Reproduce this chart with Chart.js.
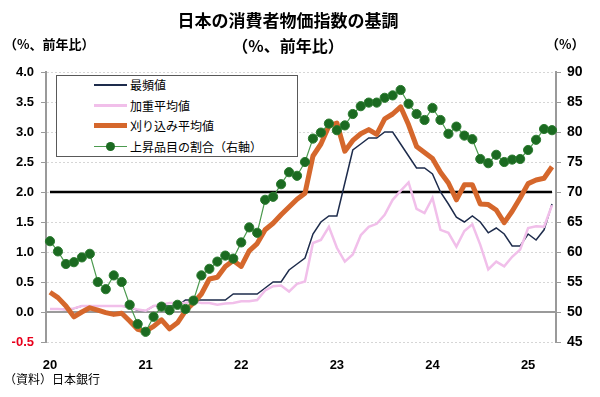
<!DOCTYPE html>
<html>
<head>
<meta charset="utf-8">
<script src="https://cdn.jsdelivr.net/npm/chart.js@4/dist/chart.umd.min.js"></script>
<style>
html,body{margin:0;padding:0;background:#fff;}
#wrap{position:relative;width:600px;height:397px;overflow:hidden;font-family:"Noto Sans CJK JP",sans-serif;color:#000;}
canvas{position:absolute;left:0;top:0;}
.t{position:absolute;white-space:nowrap;line-height:1;}
#legend{position:absolute;left:56px;top:75px;width:240px;height:80px;border:1px solid #595959;background:#fff;}
.row{position:absolute;left:0;height:16px;width:240px;}
.row .lbl{position:absolute;left:73px;top:0;font-size:12px;line-height:16px;}
.sw{position:absolute;left:37px;width:33px;}
</style>
</head>
<body>
<div id="wrap">
<canvas id="c" width="600" height="397"></canvas>
<div class="t" style="left:0;width:576px;text-align:center;top:11px;font-size:17px;font-weight:bold;">日本の消費者物価指数の基調</div>
<div class="t" style="left:0;width:576px;text-align:center;top:37px;font-size:16px;font-weight:bold;">（%、前年比）</div>
<div class="t" style="left:4px;top:37px;font-size:13px;font-weight:bold;">（%、前年比）</div>
<div class="t" style="left:546px;top:37px;font-size:13px;font-weight:bold;">（%）</div>
<div class="t" style="left:4px;top:373px;font-size:12px;">（資料）日本銀行</div>
<div id="legend"></div>
</div>
<script>
// ---- data ----
const categories = [
 '20/01','20/02','20/03','20/04','20/05','20/06','20/07','20/08','20/09','20/10','20/11','20/12',
 '21/01','21/02','21/03','21/04','21/05','21/06','21/07','21/08','21/09','21/10','21/11','21/12',
 '22/01','22/02','22/03','22/04','22/05','22/06','22/07','22/08','22/09','22/10','22/11','22/12',
 '23/01','23/02','23/03','23/04','23/05','23/06','23/07','23/08','23/09','23/10','23/11','23/12',
 '24/01','24/02','24/03','24/04','24/05','24/06','24/07','24/08','24/09','24/10','24/11','24/12',
 '25/01','25/02','25/03','25/04'];
const yearTickLabels = {'20/01':'20','21/01':'21','22/01':'22','23/01':'23','24/01':'24','25/01':'25'};

const modeValue = [ // 最頻値
 0.05,0.05,0.04,0.06,0.1,0.1,0.1,0.1,0.1,0.1,0.08,0.03,
 0.02,0.1,0.1,0.1,0.1,0.2,0.2,0.2,0.2,0.2,0.2,0.3,
 0.3,0.3,0.3,0.4,0.5,0.5,0.7,0.8,0.9,1.3,1.5,1.6,
 1.6,2.15,2.7,2.8,2.9,2.9,3.0,3.0,2.8,2.6,2.4,2.4,
 2.3,2.0,1.8,1.58,1.5,1.6,1.5,1.32,1.4,1.3,1.1,1.1,
 1.3,1.2,1.37,1.8];
const weightedMedian = [ // 加重平均値
 0.05,0.05,0.04,0.06,0.1,0.1,0.1,0.1,0.1,0.1,0.08,0.04,
 0.02,0.1,0.12,0.15,0.15,0.15,0.18,0.15,0.15,0.12,0.14,0.15,
 0.18,0.18,0.2,0.36,0.43,0.44,0.34,0.47,0.51,1.15,1.2,1.42,
 1.07,0.84,0.96,1.28,1.42,1.47,1.62,1.87,2.02,2.16,1.72,1.65,
 1.9,1.37,1.32,1.09,1.35,1.46,1.12,0.71,0.84,0.76,0.92,1.04,
 1.4,1.43,1.42,1.78];
const trimmedMean = [ // 刈り込み平均値
 0.33,0.24,0.1,-0.08,0.0,0.07,0.03,-0.01,-0.04,-0.02,-0.15,-0.29,
 -0.32,-0.24,-0.13,-0.28,-0.18,0.02,0.15,0.3,0.55,0.58,0.76,0.86,
 0.76,1.02,1.14,1.37,1.48,1.62,1.75,1.88,1.98,2.6,2.8,3.1,
 3.15,2.68,2.86,2.97,3.04,2.96,3.22,3.3,3.42,3.12,2.76,2.66,
 2.56,2.33,2.15,1.87,2.12,2.12,1.8,1.79,1.7,1.49,1.68,1.9,
 2.14,2.2,2.23,2.42];
const risingShare = [ // 上昇品目の割合（右軸）
 61.8,60.1,58.0,58.3,59.1,59.7,55.0,53.8,56.1,55.0,51.2,48.0,
 46.7,49.2,50.9,50.3,51.2,50.5,51.9,56.1,57.2,58.4,59.4,58.9,
 61.6,64.1,63.2,68.7,69.2,71.3,73.3,72.7,75.0,78.9,79.9,81.4,
 80.3,81.1,83.0,84.3,84.9,84.9,85.7,86.1,87.0,84.7,83.0,82.0,
 84.0,82.0,79.7,80.9,79.4,78.8,75.5,74.8,76.2,75.0,75.4,75.5,
 77.0,78.7,80.5,80.3];
const targetLine = categories.map(() => 2.0);

const leftTicks = {min:-0.5, max:4.0, step:0.5};
const rightTicks = {min:45, max:90, step:5};

const seriesNames = ['最頻値','加重平均値','刈り込み平均値','上昇品目の割合（右軸）'];
const colors = {mode:'#1e2c4c', wm:'#f1bfea', trim:'#d5672c', share:'#4c9a4f', dot:'#1b6a21', target:'#000000'};

// ---- legend (HTML) ----
const lg = document.getElementById('legend');
const rowTops = [1, 22, 42, 63];
const swatch = [
  `<div class="sw" style="top:7px;height:2px;background:${colors.mode}"></div>`,
  `<div class="sw" style="top:6px;height:3px;background:${colors.wm}"></div>`,
  `<div class="sw" style="top:5px;height:5px;background:${colors.trim}"></div>`,
  `<div class="sw" style="top:7px;height:1px;background:${colors.share}"></div><div style="position:absolute;left:49px;top:3px;width:9px;height:9px;border-radius:50%;background:${colors.dot}"></div>`
];
seriesNames.forEach((n,i)=>{
  const r=document.createElement('div'); r.className='row'; r.style.top=rowTops[i]+'px';
  r.innerHTML = swatch[i] + `<div class="lbl">${n}</div>`;
  lg.appendChild(r);
});

// ---- chart ----
const numFont = {family:"'Liberation Sans Narrow','Liberation Sans',Arial,sans-serif", size:13, weight:'bold'};
const zeroLine = {
  id:'zeroLine',
  beforeDatasetsDraw(chart){
    const {ctx, chartArea:a, scales:{y}} = chart;
    const py = y.getPixelForValue(0);
    ctx.save(); ctx.strokeStyle='#9a9a9a'; ctx.lineWidth=2;
    ctx.beginPath(); ctx.moveTo(a.left,py); ctx.lineTo(a.right,py); ctx.stroke(); ctx.restore();
  }
};
new Chart(document.getElementById('c'), {
  type:'line',
  data:{
    labels:categories,
    datasets:[
      {label:seriesNames[3], data:risingShare, yAxisID:'y1', borderColor:colors.share, borderWidth:1.2,
       pointRadius:4.6, pointBackgroundColor:colors.dot, pointBorderColor:'#2a7a2e', pointBorderWidth:1, tension:0},
      {label:seriesNames[2], data:trimmedMean, yAxisID:'y', borderColor:colors.trim, borderWidth:5, pointRadius:0, tension:0, borderJoinStyle:'round'},
      {label:seriesNames[1], data:weightedMedian, yAxisID:'y', borderColor:colors.wm, borderWidth:2.5, pointRadius:0, tension:0},
      {label:seriesNames[0], data:modeValue, yAxisID:'y', borderColor:colors.mode, borderWidth:1.5, pointRadius:0, tension:0},
      {label:'2%', data:targetLine, yAxisID:'y', borderColor:colors.target, borderWidth:2.5, pointRadius:0}
    ]
  },
  options:{
    responsive:false, animation:false, devicePixelRatio:1,
    layout:{padding:{top:72,left:0,right:0,bottom:0}},
    plugins:{legend:{display:false}, title:{display:false}, tooltip:{enabled:false}},
    scales:{
      x:{
        offset:true,
        grid:{display:false},
        border:{display:false},
        ticks:{autoSkip:false, maxRotation:0, minRotation:0, padding:8, color:'#000', font:numFont,
          callback:(v,i)=> yearTickLabels[categories[i]] || ''},
        afterFit:(s)=>{s.height=55;}
      },
      y:{
        position:'left', min:leftTicks.min, max:leftTicks.max,
        ticks:{stepSize:leftTicks.step, padding:7, font:numFont,
          color:(c)=> c.tick.value===-0.5 ? '#e8001c' : '#000',
          callback:(v)=> Number(v).toFixed(1)},
        grid:{color:(c)=> c.tick && c.tick.value===0 ? 'rgba(0,0,0,0)' : '#d6d6d6', lineWidth:1, tickLength:5,
          tickColor:'#9a9a9a'},
        border:{color:'#9a9a9a', width:2, dash:[2,2]},
        afterFit:(s)=>{s.width=46;}
      },
      y1:{
        position:'right', min:rightTicks.min, max:rightTicks.max,
        ticks:{stepSize:rightTicks.step, padding:6, font:{...numFont, size:14}, color:'#000'},
        grid:{drawOnChartArea:false, tickLength:5, tickColor:'#9a9a9a'},
        border:{color:'#9a9a9a', width:2},
        afterFit:(s)=>{s.width=44;}
      }
    }
  },
  plugins:[zeroLine]
});
</script>
</body>
</html>
